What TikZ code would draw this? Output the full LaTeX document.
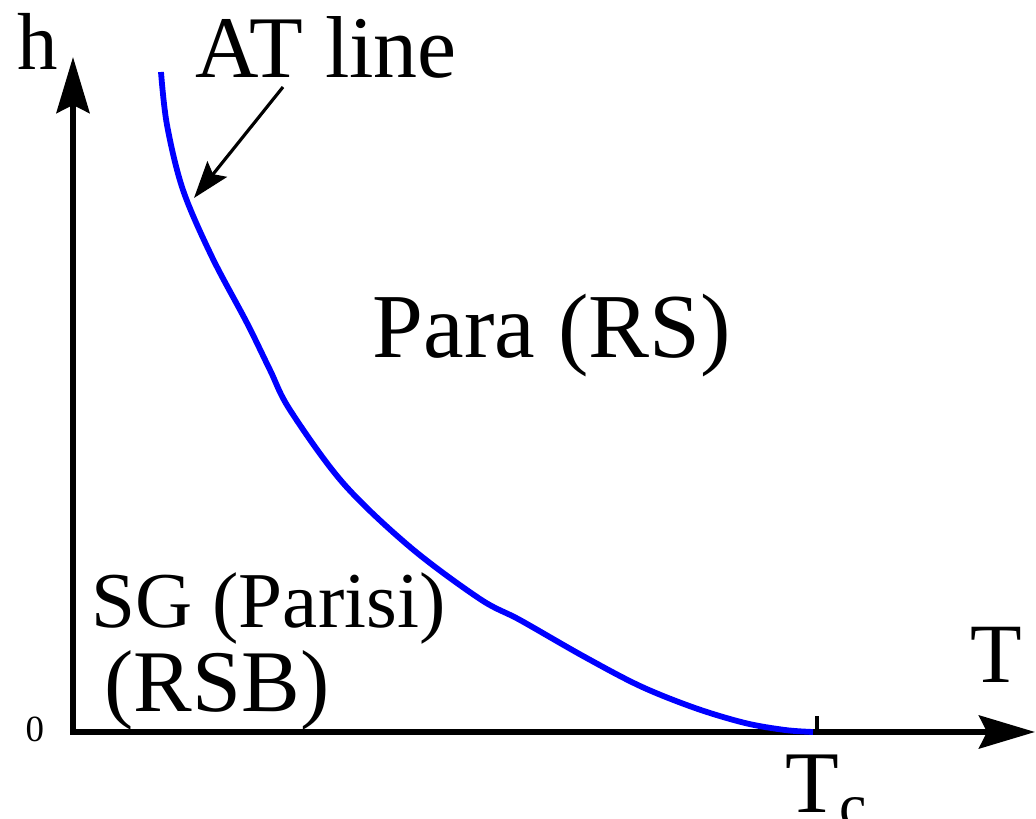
\documentclass[tikz,border=0pt]{standalone}
\usepackage{fontspec}
\setmainfont{Liberation Serif}
\usepackage{xcolor}
\definecolor{CCurve}{HTML}{0000FF}
\usetikzlibrary{arrows.meta}
\tikzstyle{axisLine}=[line width=1.6pt, line cap=rect,
  -{Stealth[length=5.6mm, width=3.3mm, inset=0.8mm]}]
\tikzstyle{tickLine}=[line width=1.4pt]
\tikzstyle{curveLine}=[line width=1.65pt, draw=CCurve]
\tikzstyle{pointerArrow}=[line width=0.9pt,
  -{Stealth[length=3.7mm, width=2.5mm, inset=0.65mm]}]
\tikzstyle{textNode}=[inner sep=0pt, anchor=base west]

\begin{document}
\begin{tikzpicture}[x=0.01cm, y=-0.01cm]
\useasboundingbox (0,0) rectangle (1036,819);
% axes
\coordinate (origin) at (73,732);
\coordinate (hTop) at (73,57);
\coordinate (tRight) at (1035,732);
\draw[axisLine] (origin) -- (hTop);
\draw[axisLine] (origin) -- (tRight);
\draw[tickLine] (817,732) -- (817,716);
% AT line
\draw[curveLine] plot[smooth, tension=0.55] coordinates {
  (161,72) (167,125) (183,190) (212,257) (247,323) (270,370) (290,410)
  (343,483) (410,547) (480,599) (520,620) (583,656) (640,686) (695,708)
  (745,723) (785,730) (813,732)};
\coordinate (atFrom) at (283,87);
\coordinate (atTo) at (194,198);
\draw[pointerArrow] (atFrom) -- (atTo);
% labels
\node[textNode, font=\fontsize{23pt}{27pt}\selectfont] (hLabel) at (17,70) {h};
\node[textNode, font=\fontsize{25pt}{30pt}\selectfont] (atLabel) at (195,78) {AT line};
\node[textNode, font=\fontsize{26pt}{31pt}\selectfont] (paraLabel) at (372,358) {Para (RS)};
\node[textNode, font=\fontsize{22.5pt}{27pt}\selectfont] (sgLabel) at (91,628) {SG (Parisi)};
\node[textNode, font=\fontsize{25pt}{30pt}\selectfont] (rsbLabel) at (104,712) {(RSB)};
\node[textNode, font=\fontsize{24pt}{29pt}\selectfont] (tLabel) at (970,683) {T};
\node[textNode, font=\fontsize{25pt}{30pt}\selectfont] (tcLabel) at (785,813) {T\textsubscript{c}};
\node[textNode, font=\fontsize{10.5pt}{12pt}\selectfont] (zeroLabel) at (25,742) {0};
\end{tikzpicture}
\end{document}
